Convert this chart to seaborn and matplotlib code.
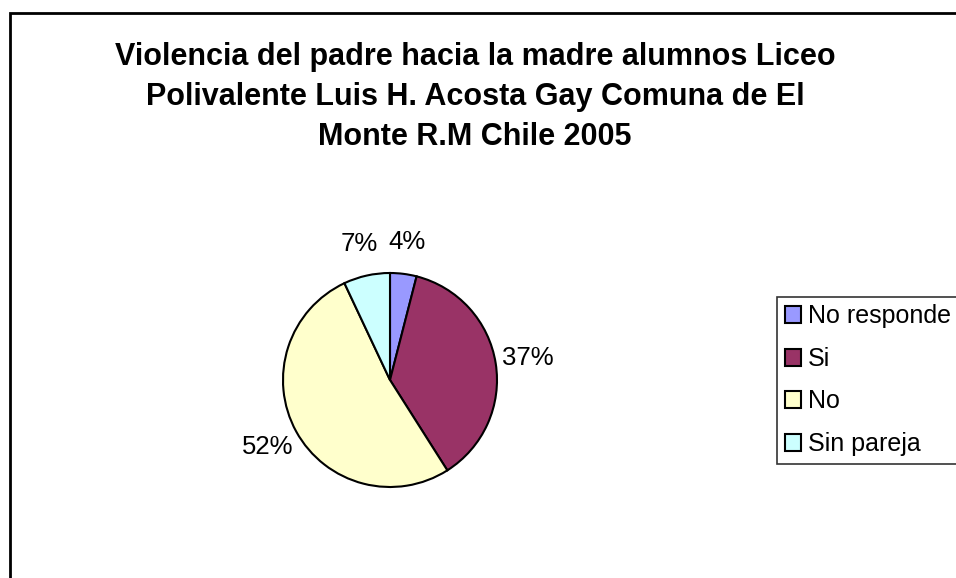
import matplotlib
matplotlib.use("Agg")
import matplotlib.pyplot as plt
import seaborn as sns
from matplotlib.patches import Rectangle

# datos del grafico
categorias = ["No responde", "Si", "No", "Sin pareja"]
porcentajes = [4, 37, 52, 7]
colores = ["#9999FF", "#993366", "#FFFFCC", "#CCFFFF"]
titulo = "Violencia del padre hacia la madre alumnos Liceo\nPolivalente Luis H. Acosta Gay Comuna de El\nMonte R.M Chile 2005"

sns.set_theme(style="white")
plt.rcParams['font.family'] = ['Liberation Sans', 'DejaVu Sans']
plt.rcParams['text.color'] = 'black'

fig = plt.figure(figsize=(9.56, 5.78), dpi=100)

# marco del grafico
fig.patches.append(Rectangle((10 / 956, -0.1), 1.2, (578 - 13) / 578 + 0.1,
                             transform=fig.transFigure, fill=False,
                             edgecolor="black", linewidth=2))

fig.text(0.497, 1 - 97 / 578, titulo, ha="center", va="center", fontsize=22,
         fontweight="bold", linespacing=1.43)

ax = fig.add_axes([(390 - 107) / 956, (198 - 107) / 578, 214 / 956, 214 / 578])
wedges, textos = ax.pie(porcentajes, colors=colores, startangle=90, counterclock=False,
                        labels=[f"{p}%" for p in porcentajes], labeldistance=1.3,
                        wedgeprops=dict(edgecolor="black", linewidth=1.5),
                        textprops=dict(fontsize=18.5, color="black"))
for t in textos:
    t.set_ha("center")
    t.set_va("center")
ax.set_xlim(-1, 1)
ax.set_ylim(-1, 1)
ax.set_aspect("equal")

leg = fig.legend(wedges, categorias, loc="upper left",
                 bbox_to_anchor=(777 / 956, 1 - 297 / 578), fontsize=18,
                 frameon=True, fancybox=False, edgecolor="black",
                 handlelength=0.65, handleheight=0.65, handletextpad=0.3,
                 labelspacing=0.74, borderpad=0.3, borderaxespad=0)
leg.get_frame().set_linewidth(1.2)

fig.savefig("out.png", dpi=100)
